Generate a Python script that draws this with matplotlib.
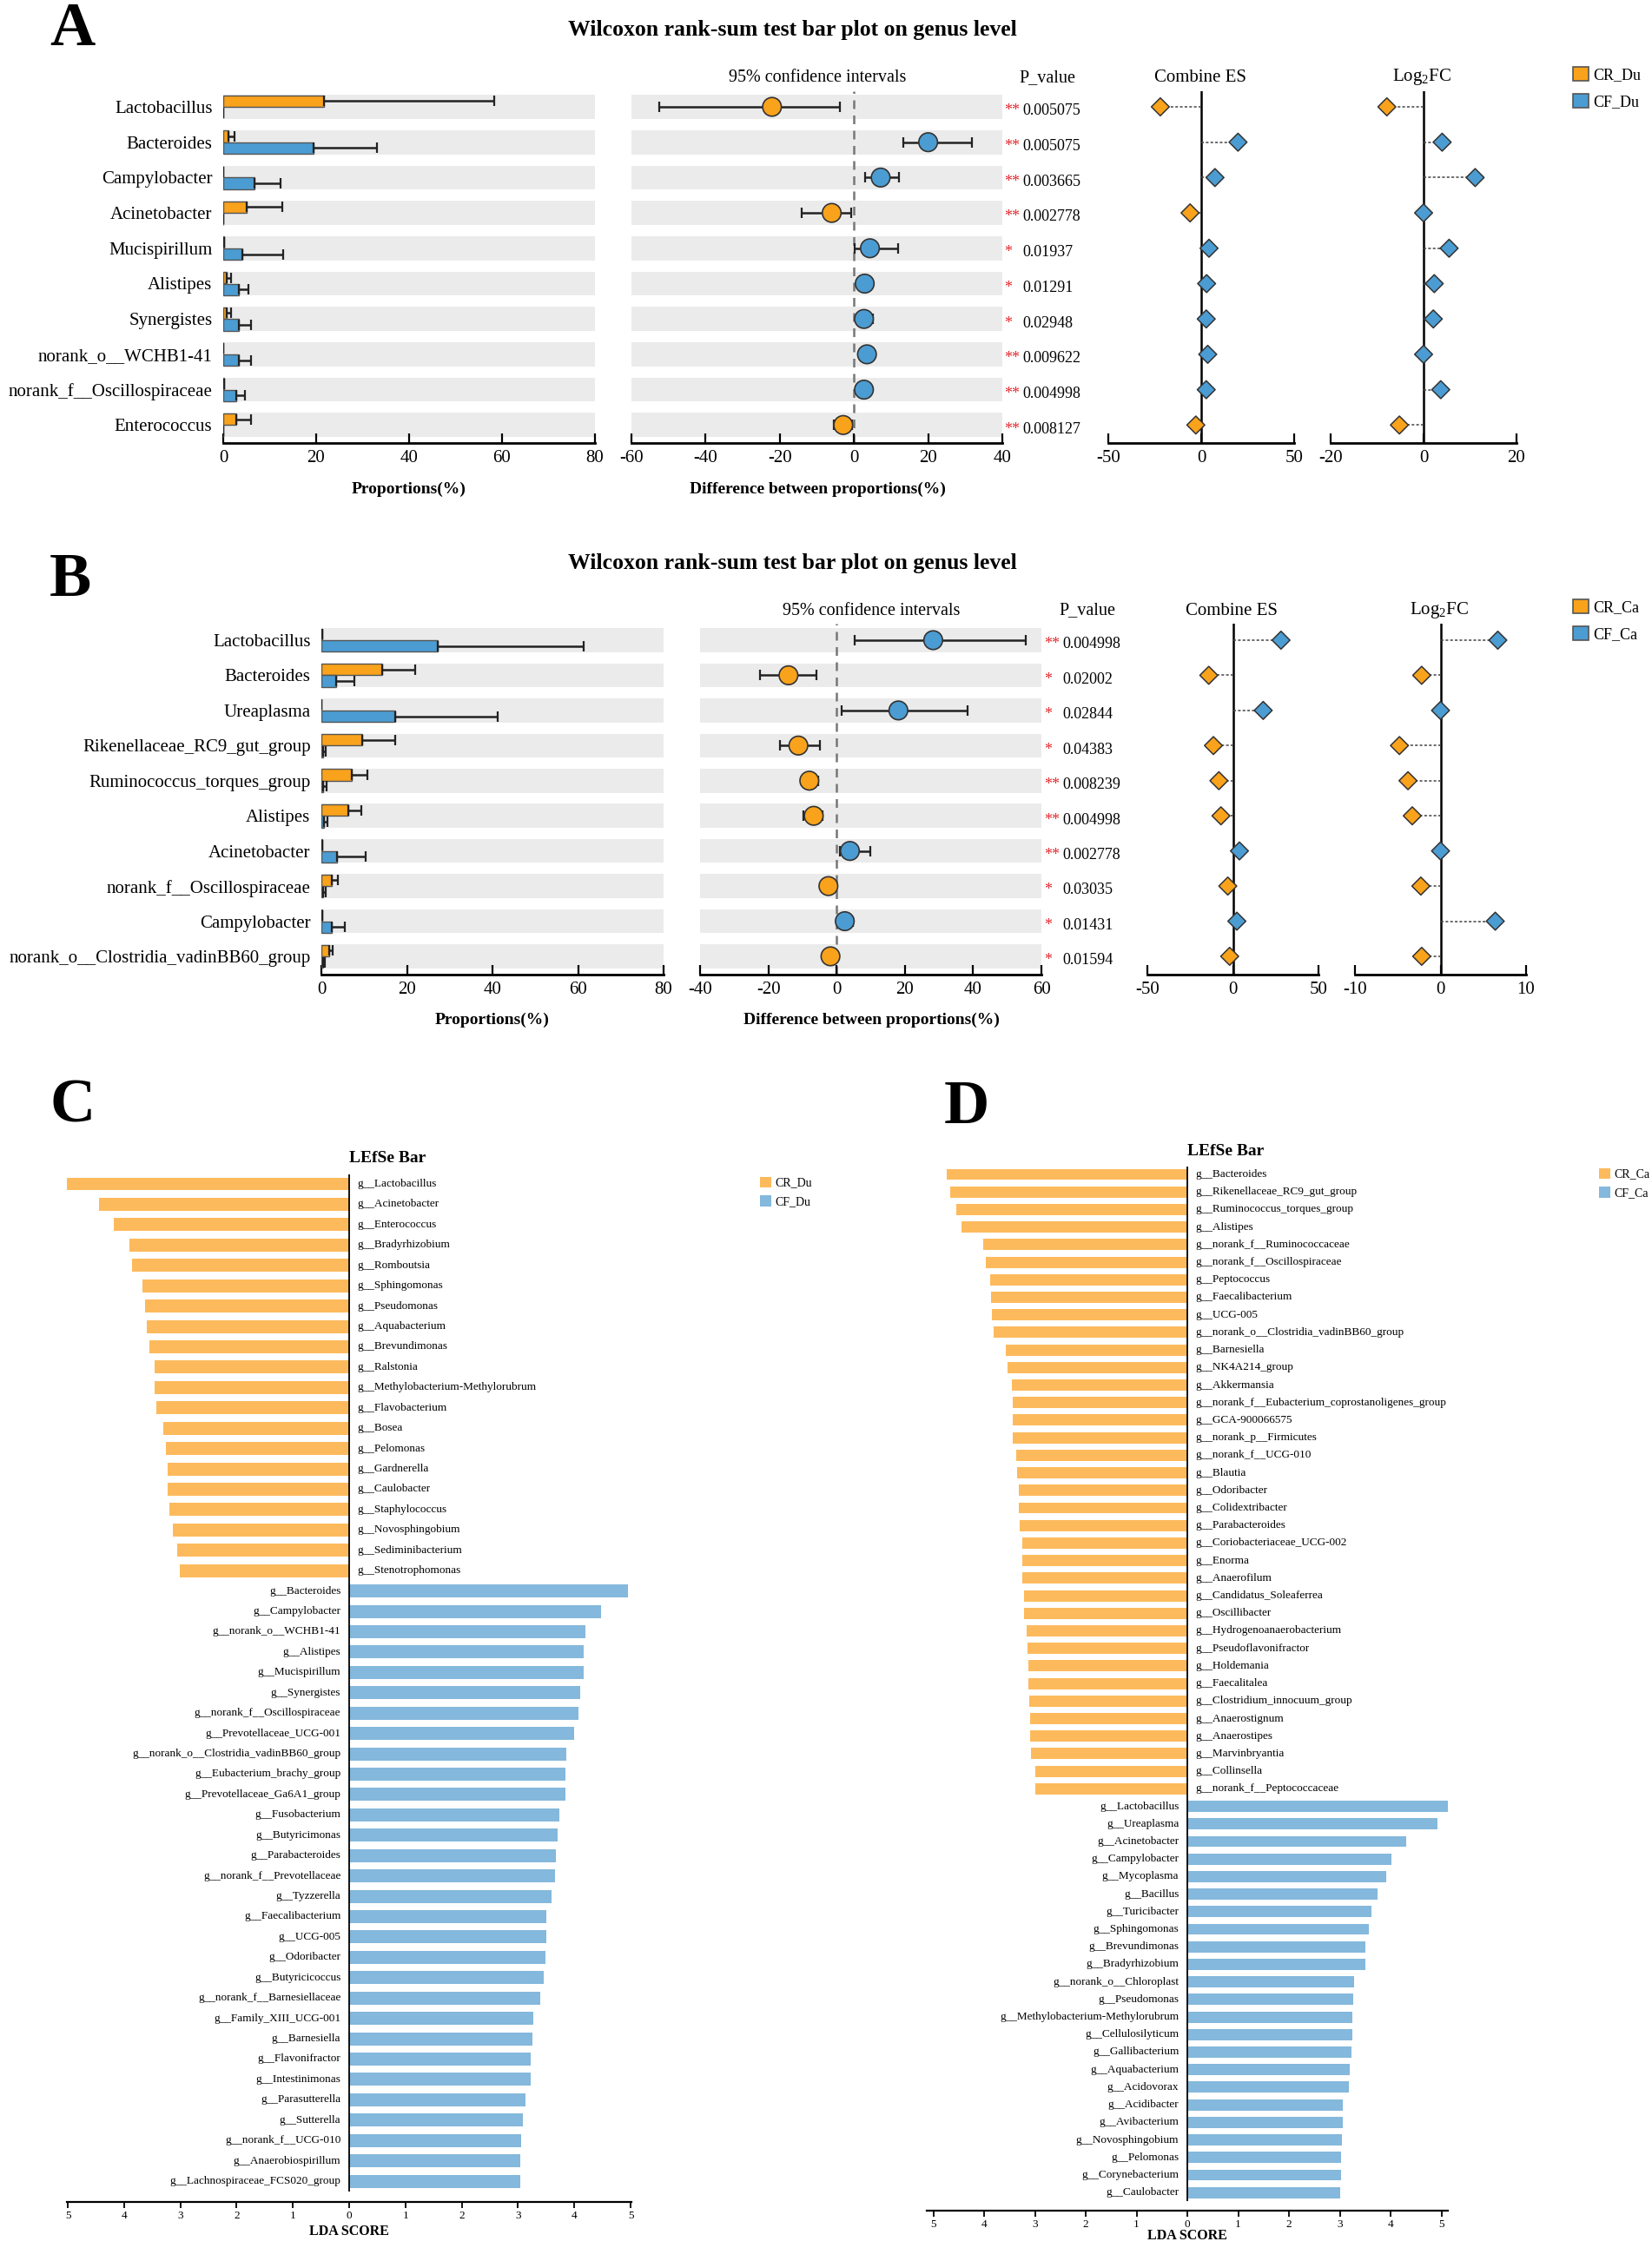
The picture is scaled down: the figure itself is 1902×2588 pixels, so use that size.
import numpy as np
import matplotlib.pyplot as plt
from matplotlib.patches import Patch
from matplotlib.ticker import FuncFormatter
from matplotlib.transforms import blended_transform_factory

plt.rcParams['font.family'] = ['Liberation Serif', 'DejaVu Serif']
plt.rcParams['mathtext.fontset'] = 'custom'
plt.rcParams['mathtext.rm'] = 'Liberation Serif'
plt.rcParams['axes.unicode_minus'] = False

W, H = 1902, 2588
ORANGE = '#F9A21B'
BLUE = '#4B9CD2'
L_ORANGE = '#FDBA5C'
L_BLUE = '#84B8DC'
BAND = '#EBEBEB'
EDGE = '#555555'

# ---------------- panel A (duodenum) ----------------
a_genus = ['Lactobacillus', 'Bacteroides', 'Campylobacter', 'Acinetobacter',
           'Mucispirillum', 'Alistipes', 'Synergistes', 'norank_o__WCHB1-41',
           'norank_f__Oscillospiraceae', 'Enterococcus']
a_cr = [21.7, 1.2, 0.0, 5.0, 0.2, 0.8, 0.8, 0.0, 0.2, 2.8]
a_cr_up = [58.4, 2.5, 0.0, 12.7, 0.2, 1.6, 1.7, 0.0, 0.2, 5.9]
a_cf = [0.0, 19.5, 6.8, 0.0, 4.2, 3.4, 3.3, 3.3, 2.8, 0.0]
a_cf_up = [0.0, 33.0, 12.4, 0.0, 12.9, 5.4, 6.0, 5.9, 4.7, 0.0]
a_diff = [-22.1, 20.0, 7.2, -6.0, 4.3, 2.9, 2.7, 3.5, 2.7, -2.9]
a_lo = [-52.4, 13.4, 3.1, -14.2, 0.2, 1.7, 1.4, 2.1, 1.9, -5.4]
a_hi = [-3.7, 31.7, 12.2, -0.8, 11.8, 4.1, 5.2, 4.9, 3.7, -0.4]
a_p = ['0.005075', '0.005075', '0.003665', '0.002778', '0.01937', '0.01291',
       '0.02948', '0.009622', '0.004998', '0.008127']
a_star = ['**', '**', '**', '**', '*', '*', '*', '**', '**', '**']
a_es = [-22.0, 19.8, 7.4, -6.0, 4.2, 2.9, 2.7, 3.5, 2.7, -2.9]
a_fc = [-7.9, 4.0, 11.1, 0.0, 5.5, 2.3, 2.1, 0.0, 3.7, -5.2]

# ---------------- panel B (caecum) ----------------
b_genus = ['Lactobacillus', 'Bacteroides', 'Ureaplasma', 'Rikenellaceae_RC9_gut_group',
           'Ruminococcus_torques_group', 'Alistipes', 'Acinetobacter',
           'norank_f__Oscillospiraceae', 'Campylobacter',
           'norank_o__Clostridia_vadinBB60_group']
b_cr = [0.3, 14.3, 0.0, 9.6, 7.2, 6.2, 0.2, 2.5, 0.2, 1.9]
b_cr_up = [0.3, 22.0, 0.0, 17.3, 10.8, 9.4, 0.2, 3.9, 0.2, 2.7]
b_cf = [27.3, 3.4, 17.3, 0.5, 0.5, 0.6, 3.7, 0.5, 2.4, 0.5]
b_cf_up = [61.3, 7.7, 41.2, 1.0, 1.2, 1.5, 10.4, 1.0, 5.4, 0.8]
b_diff = [28.3, -14.1, 18.1, -11.2, -8.0, -6.7, 3.9, -2.4, 2.4, -1.8]
b_lo = [5.3, -22.4, 1.6, -16.6, -10.3, -9.6, 0.9, -3.9, 0.9, -3.1]
b_hi = [55.3, -5.9, 38.3, -4.8, -5.4, -4.0, 9.8, -1.0, 4.7, -0.5]
b_p = ['0.004998', '0.02002', '0.02844', '0.04383', '0.008239', '0.004998',
       '0.002778', '0.03035', '0.01431', '0.01594']
b_star = ['**', '*', '*', '*', '**', '**', '**', '*', '*', '*']
b_es = [28.1, -14.1, 17.7, -11.4, -8.2, -7.0, 3.8, -3.0, 2.3, -1.9]
b_fc = [6.7, -2.2, 0.0, -4.8, -3.8, -3.3, 0.0, -2.3, 6.4, -2.2]

# ---------------- panel C (LEfSe, duodenum) ----------------
c_cr_names = ['g__Lactobacillus', 'g__Acinetobacter', 'g__Enterococcus', 'g__Bradyrhizobium',
              'g__Romboutsia', 'g__Sphingomonas', 'g__Pseudomonas', 'g__Aquabacterium',
              'g__Brevundimonas', 'g__Ralstonia', 'g__Methylobacterium-Methylorubrum',
              'g__Flavobacterium', 'g__Bosea', 'g__Pelomonas', 'g__Gardnerella',
              'g__Caulobacter', 'g__Staphylococcus', 'g__Novosphingobium',
              'g__Sediminibacterium', 'g__Stenotrophomonas']
c_cr_lda = [5.02, 4.44, 4.18, 3.90, 3.86, 3.67, 3.63, 3.60, 3.55, 3.46, 3.46, 3.43,
            3.30, 3.26, 3.22, 3.22, 3.19, 3.13, 3.05, 3.01]
c_cf_names = ['g__Bacteroides', 'g__Campylobacter', 'g__norank_o__WCHB1-41', 'g__Alistipes',
              'g__Mucispirillum', 'g__Synergistes', 'g__norank_f__Oscillospiraceae',
              'g__Prevotellaceae_UCG-001', 'g__norank_o__Clostridia_vadinBB60_group',
              'g__Eubacterium_brachy_group', 'g__Prevotellaceae_Ga6A1_group',
              'g__Fusobacterium', 'g__Butyricimonas', 'g__Parabacteroides',
              'g__norank_f__Prevotellaceae', 'g__Tyzzerella', 'g__Faecalibacterium',
              'g__UCG-005', 'g__Odoribacter', 'g__Butyricicoccus',
              'g__norank_f__Barnesiellaceae', 'g__Family_XIII_UCG-001', 'g__Barnesiella',
              'g__Flavonifractor', 'g__Intestinimonas', 'g__Parasutterella', 'g__Sutterella',
              'g__norank_f__UCG-010', 'g__Anaerobiospirillum',
              'g__Lachnospiraceae_FCS020_group']
c_cf_lda = [4.95, 4.47, 4.20, 4.17, 4.16, 4.10, 4.08, 4.00, 3.86, 3.84, 3.84, 3.74,
            3.70, 3.67, 3.66, 3.60, 3.51, 3.50, 3.49, 3.46, 3.40, 3.27, 3.25, 3.23,
            3.23, 3.13, 3.08, 3.05, 3.04, 3.04]

# ---------------- panel D (LEfSe, caecum) ----------------
d_cr_names = ['g__Bacteroides', 'g__Rikenellaceae_RC9_gut_group', 'g__Ruminococcus_torques_group',
              'g__Alistipes', 'g__norank_f__Ruminococcaceae', 'g__norank_f__Oscillospiraceae',
              'g__Peptococcus', 'g__Faecalibacterium', 'g__UCG-005',
              'g__norank_o__Clostridia_vadinBB60_group', 'g__Barnesiella', 'g__NK4A214_group',
              'g__Akkermansia', 'g__norank_f__Eubacterium_coprostanoligenes_group',
              'g__GCA-900066575', 'g__norank_p__Firmicutes', 'g__norank_f__UCG-010',
              'g__Blautia', 'g__Odoribacter', 'g__Colidextribacter', 'g__Parabacteroides',
              'g__Coriobacteriaceae_UCG-002', 'g__Enorma', 'g__Anaerofilum',
              'g__Candidatus_Soleaferrea', 'g__Oscillibacter', 'g__Hydrogenoanaerobacterium',
              'g__Pseudoflavonifractor', 'g__Holdemania', 'g__Faecalitalea',
              'g__Clostridium_innocuum_group', 'g__Anaerostignum', 'g__Anaerostipes',
              'g__Marvinbryantia', 'g__Collinsella', 'g__norank_f__Peptococcaceae']
d_cr_lda = [4.74, 4.66, 4.54, 4.45, 4.01, 3.97, 3.88, 3.86, 3.85, 3.82, 3.58, 3.54,
            3.46, 3.44, 3.43, 3.43, 3.36, 3.35, 3.32, 3.31, 3.30, 3.25, 3.25, 3.24,
            3.21, 3.21, 3.16, 3.14, 3.13, 3.12, 3.11, 3.10, 3.10, 3.08, 3.00, 3.00]
d_cf_names = ['g__Lactobacillus', 'g__Ureaplasma', 'g__Acinetobacter', 'g__Campylobacter',
              'g__Mycoplasma', 'g__Bacillus', 'g__Turicibacter', 'g__Sphingomonas',
              'g__Brevundimonas', 'g__Bradyrhizobium', 'g__norank_o__Chloroplast',
              'g__Pseudomonas', 'g__Methylobacterium-Methylorubrum', 'g__Cellulosilyticum',
              'g__Gallibacterium', 'g__Aquabacterium', 'g__Acidovorax', 'g__Acidibacter',
              'g__Avibacterium', 'g__Novosphingobium', 'g__Pelomonas', 'g__Corynebacterium',
              'g__Caulobacter']
d_cf_lda = [5.13, 4.93, 4.31, 4.02, 3.91, 3.74, 3.62, 3.57, 3.51, 3.50, 3.29, 3.27,
            3.24, 3.24, 3.23, 3.19, 3.18, 3.06, 3.06, 3.04, 3.03, 3.02, 3.00]

fig = plt.figure(figsize=(W / 100, H / 100), dpi=100)


def axes_px(x0, y0, x1, y1):
    return fig.add_axes([x0 / W, 1 - y1 / H, (x1 - x0) / W, (y1 - y0) / H])


def ftext(x, y, s, **kw):
    fig.text(x / W, 1 - y / H, s, ha=kw.pop('ha', 'center'), va=kw.pop('va', 'center'), **kw)


def bottom_only(ax, ticks, lim, fs=15):
    for sp in ['top', 'right', 'left']:
        ax.spines[sp].set_visible(False)
    ax.spines['bottom'].set_linewidth(2)
    ax.set_xlim(*lim)
    ax.set_xticks(ticks)
    ax.tick_params(axis='x', direction='in', length=8, width=1.6, labelsize=fs, pad=6)
    ax.tick_params(axis='y', length=0)
    ax.set_facecolor('none')


def wilcoxon(genus, cr, cr_up, cf, cf_up, diff, lo, hi, pv, st, es, fc,
             prop_x, ci_x, es_x, fc_x, c0, s, top, bottom,
             ci_lim, fc_lim, star_x, p_x, legend_labels, legend_y):
    n = len(genus)
    y = np.arange(n)
    ylim = ((bottom - c0) / s, (top - c0) / s)
    h = 0.33

    # proportions
    ax = axes_px(prop_x[0], top, prop_x[1], bottom)
    for i in y:
        ax.axhspan(i - 0.34, i + 0.34, color=BAND, lw=0, zorder=0)
    cr = np.array(cr); cf = np.array(cf)
    ax.barh(y - h / 2, cr, height=h, color=ORANGE, edgecolor=EDGE, lw=1, zorder=2)
    ax.barh(y + h / 2, cf, height=h, color=BLUE, edgecolor=EDGE, lw=1, zorder=2)
    ax.errorbar(cr, y - h / 2, xerr=[np.zeros(n), np.array(cr_up) - cr], fmt='none',
                ecolor='#222222', elinewidth=1.8, capsize=4, capthick=1.6, zorder=3)
    ax.errorbar(cf, y + h / 2, xerr=[np.zeros(n), np.array(cf_up) - cf], fmt='none',
                ecolor='#222222', elinewidth=1.8, capsize=4, capthick=1.6, zorder=3)
    ax.set_ylim(*ylim)
    ax.set_yticks(y)
    ax.set_yticklabels(genus, fontsize=15)
    bottom_only(ax, np.arange(0, 81, 20), (0, 80))
    ax.tick_params(axis='y', pad=9)

    # confidence intervals
    ax2 = axes_px(ci_x[0], top, ci_x[1], bottom)
    for i in y:
        ax2.axhspan(i - 0.34, i + 0.34, color=BAND, lw=0, zorder=0)
    diff = np.array(diff)
    ax2.axvline(0, color='#777777', ls=(0, (4, 3)), lw=1.8, zorder=1)
    ax2.errorbar(diff, y, xerr=[diff - np.array(lo), np.array(hi) - diff], fmt='none',
                 ecolor='#222222', elinewidth=1.8, capsize=4, capthick=1.6, zorder=2)
    cols = [BLUE if d > 0 else ORANGE for d in diff]
    ax2.scatter(diff, y, s=240, c=cols, edgecolors='#333333', linewidths=1.2, zorder=3)
    ax2.set_ylim(*ylim)
    ax2.set_yticks([])
    bottom_only(ax2, np.arange(ci_lim[0], ci_lim[1] + 1, 20), ci_lim)

    tr = blended_transform_factory(fig.transFigure, ax2.transData)
    for i in y:
        ax2.text(star_x / W, i + 0.12, st[i], transform=tr, color='#E3262B', fontsize=13,
                 ha='left', va='center', clip_on=False)
        ax2.text(p_x / W, i + 0.12, pv[i], transform=tr, fontsize=13,
                 ha='left', va='center', clip_on=False)

    # effect size and log2 fold change
    for xs, vals, lim, ticks in [(es_x, es, (-50, 50), [-50, 0, 50]),
                                 (fc_x, fc, fc_lim, [fc_lim[0], 0, fc_lim[1]])]:
        ax3 = axes_px(xs[0], top, xs[1], bottom)
        vals = np.array(vals)
        ax3.axvline(0, color='black', lw=1.8, zorder=1)
        ax3.hlines(y, 0, vals, colors='#444444', linestyles=(0, (2, 1.5)), lw=1.1, zorder=1)
        cols = [BLUE if v >= 0 else ORANGE for v in vals]
        ax3.scatter(vals, y, marker='D', s=110, c=cols, edgecolors='#333333',
                    linewidths=1.1, zorder=3)
        ax3.set_ylim(*ylim)
        ax3.set_yticks([])
        bottom_only(ax3, ticks, lim)

    fig.legend(handles=[Patch(facecolor=ORANGE, edgecolor=EDGE, lw=1.2),
                        Patch(facecolor=BLUE, edgecolor=EDGE, lw=1.2)],
               labels=legend_labels, loc='upper left',
               bbox_to_anchor=(1804 / W, 1 - legend_y / H), frameon=False, fontsize=13,
               handlelength=1.0, handleheight=1.0, handletextpad=0.3, labelspacing=0.7,
               borderaxespad=0)


def lefse(cr_names, cr_lda, cf_names, cf_lda, zero_x, unit, c0, s, top, bottom,
          legend_labels, legend_x, legend_y, title_y, label_y):
    names = cr_names + cf_names
    vals = np.array([-v for v in cr_lda] + list(cf_lda))
    n = len(names)
    y = np.arange(n)
    lim = np.abs(vals).max()
    ax = axes_px(zero_x - lim * unit, top, zero_x + lim * unit, bottom)
    cols = [L_ORANGE] * len(cr_names) + [L_BLUE] * len(cf_names)
    ax.barh(y, vals, height=0.64, color=cols, lw=0, zorder=2)
    ax.vlines(0, -0.5, n - 0.5, colors='black', lw=1.3, zorder=3)
    for i in y:
        if vals[i] < 0:
            ax.annotate(names[i], (0, i), xytext=(7, 0), textcoords='offset points',
                        ha='left', va='center', fontsize=9.5)
        else:
            ax.annotate(names[i], (0, i), xytext=(-7, 0), textcoords='offset points',
                        ha='right', va='center', fontsize=9.5)
    ax.set_ylim((bottom - c0) / s, (top - c0) / s)
    ax.set_xlim(-lim, lim)
    ax.set_yticks([])
    for sp in ['top', 'right', 'left']:
        ax.spines[sp].set_visible(False)
    ax.spines['bottom'].set_linewidth(1.6)
    ax.set_xticks(np.arange(-5, 6))
    ax.xaxis.set_major_formatter(FuncFormatter(lambda v, p: f'{abs(v):.0f}'))
    ax.tick_params(axis='x', direction='out', length=5, width=1.3, labelsize=9.5, pad=2)
    ftext(zero_x, title_y, 'LEfSe Bar', ha='left', fontsize=14, fontweight='bold')
    ftext(zero_x, label_y, 'LDA SCORE', fontsize=11.5, fontweight='bold')
    fig.legend(handles=[Patch(facecolor=L_ORANGE, lw=0), Patch(facecolor=L_BLUE, lw=0)],
               labels=legend_labels, loc='upper left',
               bbox_to_anchor=(legend_x / W, 1 - legend_y / H), frameon=False, fontsize=10,
               handlelength=1.0, handleheight=1.0, handletextpad=0.25, labelspacing=0.55,
               borderaxespad=0)


# ----- A -----
wilcoxon(a_genus, a_cr, a_cr_up, a_cf, a_cf_up, a_diff, a_lo, a_hi, a_p, a_star,
         a_es, a_fc, (257, 685), (727, 1154), (1276, 1490), (1532, 1746),
         123, 40.7, 105, 510, (-60, 40), (-20, 20), 1156, 1177, ['CR_Du', 'CF_Du'], 70)
ftext(83, 34, 'A', fontsize=52, fontweight='bold')
ftext(912, 35, 'Wilcoxon rank-sum test bar plot on genus level', fontsize=18.5, fontweight='bold')
ftext(941, 90, '95% confidence intervals', fontsize=14.5)
ftext(1206, 90, 'P_value', fontsize=14.5)
ftext(1382, 89, 'Combine ES', fontsize=15)
ftext(1637, 89, r'Log$_\mathrm{2}$FC', fontsize=15)
ftext(471, 563, 'Proportions(%)', fontsize=14, fontweight='bold')
ftext(941, 563, 'Difference between proportions(%)', fontsize=14, fontweight='bold')

# ----- B -----
wilcoxon(b_genus, b_cr, b_cr_up, b_cf, b_cf_up, b_diff, b_lo, b_hi, b_p, b_star,
         b_es, b_fc, (370, 764), (806, 1199), (1321, 1518), (1560, 1757),
         737, 40.44, 718, 1122, (-40, 60), (-10, 10), 1202, 1223, ['CR_Ca', 'CF_Ca'], 683)
ftext(81, 668, 'B', fontsize=52, fontweight='bold')
ftext(912, 648, 'Wilcoxon rank-sum test bar plot on genus level', fontsize=18.5, fontweight='bold')
ftext(1003, 703, '95% confidence intervals', fontsize=14.5)
ftext(1252, 703, 'P_value', fontsize=14.5)
ftext(1418, 703, 'Combine ES', fontsize=15)
ftext(1657, 703, r'Log$_\mathrm{2}$FC', fontsize=15)
ftext(567, 1174, 'Proportions(%)', fontsize=14, fontweight='bold')
ftext(1003, 1174, 'Difference between proportions(%)', fontsize=14, fontweight='bold')

# ----- C -----
lefse(c_cr_names, c_cr_lda, c_cf_names, c_cf_lda, 402, 64.8, 1363, 23.43, 1352, 2535,
      ['CR_Du', 'CF_Du'], 869, 1349, 1333, 2569)
ftext(84, 1274, 'C', fontsize=52, fontweight='bold')

# ----- D -----
lefse(d_cr_names, d_cr_lda, d_cf_names, d_cf_lda, 1367, 58.5, 1352, 20.21, 1343, 2545,
      ['CR_Ca', 'CF_Ca'], 1835, 1339, 1326, 2574)
ftext(1113, 1275, 'D', fontsize=52, fontweight='bold')

fig.savefig('out.png', dpi=100)
